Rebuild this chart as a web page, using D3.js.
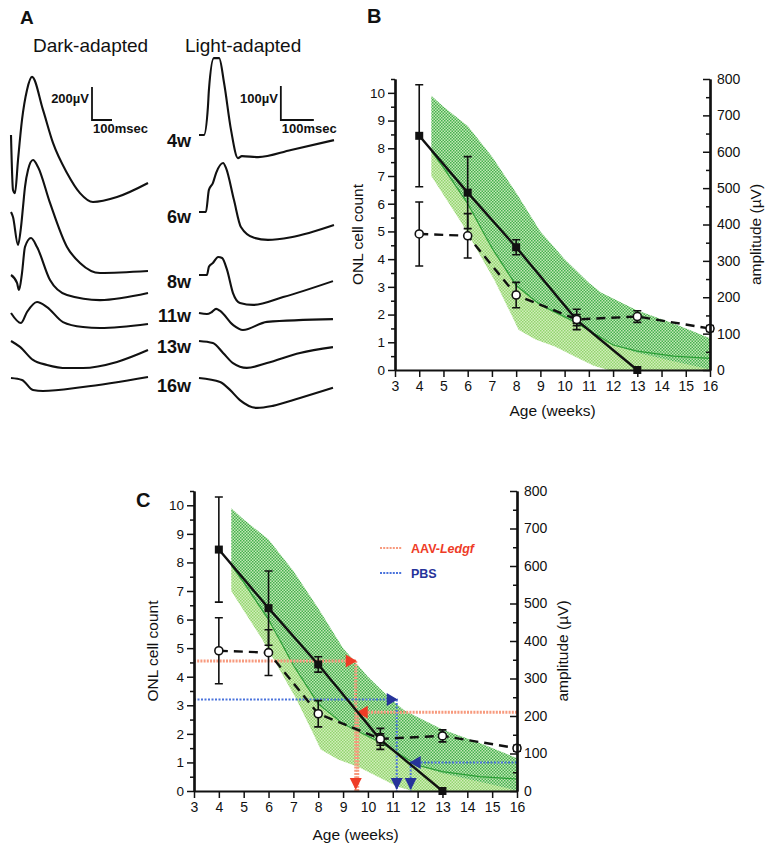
<!DOCTYPE html>
<html><head><meta charset="utf-8">
<script src="https://cdn.jsdelivr.net/npm/d3@7"></script>
<style>
body{margin:0;background:#fff}
svg{display:block}
text{font-family:"Liberation Sans",Arial,sans-serif;fill:#111}
.tick text{font-family:"Liberation Sans Narrow","Liberation Sans",Arial,sans-serif}
</style>
</head><body>
<svg id="fig" width="769" height="850"></svg>
<script>
// ---------------- DATA ----------------
// Panel A: ERG traces, [time ms, amplitude µV] relative to trace start
const ages = ["4w","6w","8w","11w","13w","16w"];
const dark4w  = [[0,0],[10,-333],[20,-352],[35,-152],[55,91],[80,273],[105,352],[160,152],[210,-48],[280,-230],[345,-352],[410,-406],[530,-376],[685,-291]];
const dark6w  = [[0,0],[10,-30],[35,-200],[50,-91],[60,30],[70,152],[85,255],[110,315],[135,273],[195,55],[280,-212],[345,-309],[445,-370],[685,-358]];
const dark8w  = [[0,0],[30,-48],[40,-91],[55,12],[70,170],[100,224],[130,170],[195,-30],[280,-121],[445,-152],[685,-109]];
const dark11w = [[0,0],[50,-61],[80,6],[130,67],[180,36],[260,-55],[360,-85],[445,-91],[685,-67]];
const dark13w = [[0,0],[45,-36],[110,-115],[180,-145],[280,-164],[360,-164],[530,-127],[685,-55]];
const dark16w = [[0,0],[55,-12],[110,-73],[160,-79],[360,-55],[685,6]];
const light4w  = [[0,0],[15,0],[27,82],[30,132],[45,226],[61,226],[76,153],[97,15],[118,-68],[130,-62],[179,-65],[279,-44],[409,-15]];
const light6w  = [[0,0],[21,0],[30,65],[42,85],[52,115],[73,144],[82,129],[106,35],[127,-44],[167,-76],[209,-82],[279,-74],[409,-38]];
const light8w  = [[0,0],[24,0],[30,24],[42,35],[58,53],[70,50],[85,15],[103,-53],[124,-82],[164,-88],[255,-65],[406,-18]];
const light11w = [[0,0],[24,-3],[39,3],[52,12],[64,6],[103,-35],[133,-50],[206,-26],[406,-18]];
const light13w = [[0,0],[42,-6],[73,-35],[103,-65],[145,-79],[206,-65],[306,-35],[406,-18]];
const light16w = [[0,0],[64,-12],[94,-35],[124,-65],[176,-88],[224,-82],[306,-59],[406,-29]];
const darkBar = {uv:200, ms:100, uvLabel:"200\u00b5V", msLabel:"100msec"};
const lightBar = {uv:100, ms:100, uvLabel:"100\u00b5V", msLabel:"100msec"};

// Panels B/C
const onlWeeks = [4, 6, 8, 10.5, 13];
const onlCount = [8.45, 6.4, 4.43, 1.8, 0];
const onlErr   = [1.84, 1.3, 0.27, 0.2, 0];
const ampWeeks = [4, 6, 8, 10.5, 13, 16];
const ampUV    = [374, 369, 206, 139, 147, 114];
const ampErr   = [88, 61, 35, 28, 16, 8];
const upperW = [4.5, 5, 6, 7, 8, 9, 10, 11, 11.5, 13, 14.5, 16];
const upperV = [9.9, 9.5, 8.8, 7.7, 6.4, 5.0, 4.0, 3.15, 2.8, 2.15, 1.68, 1.15];
const midW = [4.5, 5, 6, 7, 8, 9, 10.5, 12, 13, 14.5, 16];
const midV = [7.9, 7.3, 6.0, 4.4, 3.05, 2.35, 1.7, 0.9, 0.68, 0.5, 0.42];
const darkLowV = [7.9, 7.3, 6.0, 4.4, 3.05, 2.35, 1.7, 0.9, 0.62, 0.32, 0.02];
const lowerW = [4.5, 5.75, 7.1, 7.8, 8.1, 8.8, 9.6, 10.4, 11.2, 11.8, 16];
const lowerV = [7.0, 5.3, 3.25, 2.0, 1.45, 1.1, 0.85, 0.5, 0.15, 0, 0];
const xTicks = [3,4,5,6,7,8,9,10,11,12,13,14,15,16];
const leftTicks = [0,1,2,3,4,5,6,7,8,9,10];
const rightTicks = [0,100,200,300,400,500,600,700,800];
// Panel C projection arrows
const arrowNames = ["AAV-Ledgf", "PBS"];
const arrowOnl = [4.55, 3.2];
const arrowOnlWeek = [9.55, 11.2];
const arrowAmp = [210, 76];
const arrowAmpWeek = [9.55, 11.68];

// ---------------- DRAW ----------------
const svg = d3.select("#fig");
const defs = svg.append("defs");
function pattern(id, bg, fg){
  const p = defs.append("pattern").attr("id",id).attr("width",3).attr("height",3).attr("patternUnits","userSpaceOnUse");
  p.append("rect").attr("width",3).attr("height",3).attr("fill",bg);
  p.append("rect").attr("width",1.5).attr("height",1.5).attr("fill",fg);
  p.append("rect").attr("x",1.5).attr("y",1.5).attr("width",1.5).attr("height",1.5).attr("fill",fg);
}
pattern("hatchDark", "#c4e9b6", "#45b04e");
pattern("hatchLight", "#d2efbb", "#92d46f");

// ---- Panel A ----
svg.append("text").attr("x",20).attr("y",24).attr("font-size",19).attr("font-weight","bold").text("A");
svg.append("text").attr("x",33).attr("y",52).attr("font-size",19).text("Dark-adapted");
svg.append("text").attr("x",185).attr("y",52).attr("font-size",19).text("Light-adapted");
const rowY = [135, 212, 275, 313, 341, 378];
const labelY = [147, 223, 288, 322, 353, 392];
const darkTraces = [dark4w, dark6w, dark8w, dark11w, dark13w, dark16w];
const lightTraces = [light4w, light6w, light8w, light11w, light13w, light16w];
const xD = d3.scaleLinear().domain([0,100]).range([11,31]);
const xLt = d3.scaleLinear().domain([0,100]).range([199,232]);
const gA = svg.append("g");
function trace(data, xs, ys){
  gA.append("path").datum(data)
    .attr("d", d3.line().x(d=>xs(d[0])).y(d=>ys(d[1])).curve(d3.curveMonotoneX))
    .attr("fill","none").attr("stroke","#111").attr("stroke-width",2.1).attr("stroke-linejoin","round");
}
ages.forEach((a,i)=>{
  trace(darkTraces[i], xD, d3.scaleLinear().domain([0,200]).range([rowY[i], rowY[i]-33]));
  trace(lightTraces[i], xLt, d3.scaleLinear().domain([0,100]).range([rowY[i], rowY[i]-34]));
  gA.append("text").attr("x",191).attr("y",labelY[i]).attr("text-anchor","end")
    .attr("font-size",18).attr("font-weight","bold").text(a);
});
function scaleBar(bar, xs, t0, ys){
  const x0 = xs(t0), x1 = xs(t0+bar.ms), yb = ys(0), yt = ys(bar.uv);
  gA.append("path").attr("d",`M${x0},${yt}V${yb}H${x1}`).attr("fill","none").attr("stroke","#111").attr("stroke-width",1.8);
  gA.append("text").attr("x",x0-3).attr("y",103).attr("text-anchor","end").attr("font-size",13).attr("font-weight","bold").text(bar.uvLabel);
  gA.append("text").attr("x",x0+1).attr("y",133).attr("font-size",13).attr("font-weight","bold").text(bar.msLabel);
}
scaleBar(darkBar, xD, 405, d3.scaleLinear().domain([0,200]).range([120,87]));
scaleBar(lightBar, xLt, 248, d3.scaleLinear().domain([0,100]).range([120,86]));

// ---- Panels B & C ----
function drawChart(cfg){
  const g = svg.append("g");
  const x = d3.scaleLinear().domain([3,16]).range([cfg.x0, cfg.x1]);
  const yL = d3.scaleLinear().domain([0,10.5]).range([cfg.y0, cfg.y1]);
  const yR = d3.scaleLinear().domain([0,800]).range([cfg.y0, cfg.y1]);
  const poly = (wu, vu, wl, vl) => {
    const pts = wu.map((w,i)=>[x(w), yL(vu[i])]).concat(wl.map((w,i)=>[x(w), yL(vl[i])]).reverse());
    return d3.line()(pts) + "Z";
  };
  g.append("path").attr("d", poly(midW, midV, lowerW, lowerV)).attr("fill","url(#hatchLight)");
  g.append("path").attr("d", poly(upperW, upperV, midW, darkLowV)).attr("fill","url(#hatchDark)");
  g.append("path").datum(midW.map((w,i)=>[w, midV[i]]))
    .attr("d", d3.line().x(d=>x(d[0])).y(d=>yL(d[1])))
    .attr("fill","none").attr("stroke","#2b9e36").attr("stroke-width",1.2);

  if (cfg.arrows){
    const colLine = ["#f79a7e", "#4a73dc"], colHead = ["#ee3b26", "#26339a"];
    const dash = ["2,1.2", "2,1.5"], sw = [3, 2];
    const tri = (px, py, dir, c) => {
      const s = 6.5;
      let d;
      if (dir==="r") d = `M${px},${py}L${px-11},${py-s}L${px-11},${py+s}Z`;
      if (dir==="l") d = `M${px},${py}L${px+11},${py-s}L${px+11},${py+s}Z`;
      if (dir==="d") d = `M${px},${py}L${px-6},${py-12}L${px+6},${py-12}Z`;
      g.append("path").attr("d", d).attr("fill", c);
    };
    arrowNames.forEach((n,i)=>{
      const ly = yL(arrowOnl[i]), lx = x(arrowOnlWeek[i]);
      const ry = yR(arrowAmp[i]), rx = x(arrowAmpWeek[i]);
      const ln = (d) => g.append("path").attr("d", d).attr("fill","none")
        .attr("stroke", colLine[i]).attr("stroke-width", sw[i]).attr("stroke-dasharray", dash[i]);
      ln(`M${x(3)},${ly}H${lx}`);
      ln(`M${lx - 1},${ly}V${yL(0)}`);
      ln(`M${x(16)},${ry}H${rx}`);
      ln(`M${rx + 1},${ry}V${yL(0)}`);
      tri(lx, ly, "r", colHead[i]);
      tri(rx, ry, "l", colHead[i]);
      tri(lx - 1, yL(0) - 1, "d", colHead[i]);
      if (Math.abs(rx - lx) > 4) tri(rx + 1, yL(0) - 1, "d", colHead[i]);
      const legY = cfg.legendY + i*25;
      g.append("path").attr("d", `M${cfg.legendX},${legY}h22`).attr("stroke", colLine[i])
        .attr("stroke-width", 2).attr("stroke-dasharray","2,1.2");
      const t = g.append("text").attr("x", cfg.legendX + 31).attr("y", legY + 4.5)
        .attr("font-size", 12.5).attr("font-weight","bold").style("fill", colHead[i]);
      if (n.indexOf("-") > 0){
        t.append("tspan").text(n.split("-")[0] + "-");
        t.append("tspan").attr("font-style","italic").text(n.split("-")[1]);
      } else t.text(n);
    });
  }

  // ONL line (solid)
  g.append("path").datum(onlWeeks.map((w,i)=>[w, onlCount[i]]))
    .attr("d", d3.line().x(d=>x(d[0])).y(d=>yL(d[1])))
    .attr("fill","none").attr("stroke","#111").attr("stroke-width",2.4);
  // amplitude line (dashed)
  g.append("path").datum(ampWeeks.map((w,i)=>[w, ampUV[i]]))
    .attr("d", d3.line().x(d=>x(d[0])).y(d=>yR(d[1])))
    .attr("fill","none").attr("stroke","#111").attr("stroke-width",2.4).attr("stroke-dasharray","9,6");
  const errBar = (px, yTop, yBot) => {
    g.append("path").attr("d", `M${px},${yTop}V${yBot}M${px-4},${yTop}h8M${px-4},${yBot}h8`)
      .attr("stroke","#111").attr("stroke-width",1.6).attr("fill","none");
  };
  onlWeeks.forEach((w,i)=>{ if (onlErr[i] > 0) errBar(x(w), yL(onlCount[i]+onlErr[i]), yL(onlCount[i]-onlErr[i])); });
  ampWeeks.forEach((w,i)=>{ errBar(x(w), yR(ampUV[i]+ampErr[i]), yR(ampUV[i]-ampErr[i])); });
  onlWeeks.forEach((w,i)=>{
    g.append("rect").attr("x", x(w)-4).attr("y", yL(onlCount[i])-4).attr("width",8).attr("height",8).attr("fill","#111");
  });
  ampWeeks.forEach((w,i)=>{
    g.append("circle").attr("cx", x(w)).attr("cy", yR(ampUV[i])).attr("r",4).attr("fill","#fff").attr("stroke","#111").attr("stroke-width",1.6);
  });

  // axes
  const style = sel => {
    sel.select(".domain").attr("stroke","#111").attr("stroke-width",2.2);
    sel.selectAll(".tick line").attr("stroke","#111").attr("stroke-width",1.5);
    sel.selectAll(".tick text").attr("font-size",13.5).attr("fill","#222");
  };
  g.append("g").attr("transform",`translate(${cfg.x0},0)`)
    .call(d3.axisLeft(yL).tickValues(leftTicks.map(v=>v+0.5)).tickSize(4).tickSizeOuter(0).tickFormat(""))
    .call(style);
  g.append("g").attr("transform",`translate(${cfg.x0},0)`)
    .call(d3.axisLeft(yL).tickValues(leftTicks).tickSize(7).tickSizeOuter(0).tickPadding(3).tickFormat(d3.format("d")))
    .call(style);
  g.append("g").attr("transform",`translate(${cfg.x1},0)`)
    .call(d3.axisRight(yR).tickValues(rightTicks.map(v=>v+50).filter(v=>v<800)).tickSize(-4).tickSizeOuter(0).tickFormat(""))
    .call(style);
  g.append("g").attr("transform",`translate(${cfg.x1},0)`)
    .call(d3.axisRight(yR).tickValues(rightTicks).tickSize(-7).tickSizeOuter(0).tickPadding(7).tickFormat(d3.format("d")))
    .call(style).call(s=>s.selectAll(".tick text").attr("font-size",14));
  g.append("g").attr("transform",`translate(0,${cfg.y0})`)
    .call(d3.axisBottom(x).tickValues(xTicks).tickSize(7).tickSizeOuter(0).tickPadding(4).tickFormat(d3.format("d")))
    .call(style).call(s=>s.selectAll(".tick text").attr("font-size",14));

  // titles
  g.append("text").attr("x", cfg.labelX).attr("y", cfg.labelY).attr("font-size",20).attr("font-weight","bold").text(cfg.label);
  g.append("text").attr("transform",`translate(${cfg.ylabX},${(cfg.y0+cfg.y1)/2+10}) rotate(-90)`)
    .attr("text-anchor","middle").attr("font-size",15.5).text("ONL cell count");
  g.append("text").attr("transform",`translate(${cfg.yrlabX},${(cfg.y0+cfg.y1)/2+10}) rotate(-90)`)
    .attr("text-anchor","middle").attr("font-size",15.5).text("amplitude (\u00b5V)");
  g.append("text").attr("x",(cfg.x0+cfg.x1)/2).attr("y",cfg.xlabY).attr("text-anchor","middle")
    .attr("font-size",15.5).text("Age (weeks)");
}

drawChart({x0:395, x1:710, y0:370, y1:79, label:"B", labelX:367, labelY:23,
  ylabX:363, yrlabX:761, xlabY:416, arrows:false});
drawChart({x0:194, x1:517, y0:791, y1:491, label:"C", labelX:136, labelY:507,
  ylabX:158, yrlabX:568, xlabY:840, arrows:true, legendX:380, legendY:548});
</script>
</body></html>
